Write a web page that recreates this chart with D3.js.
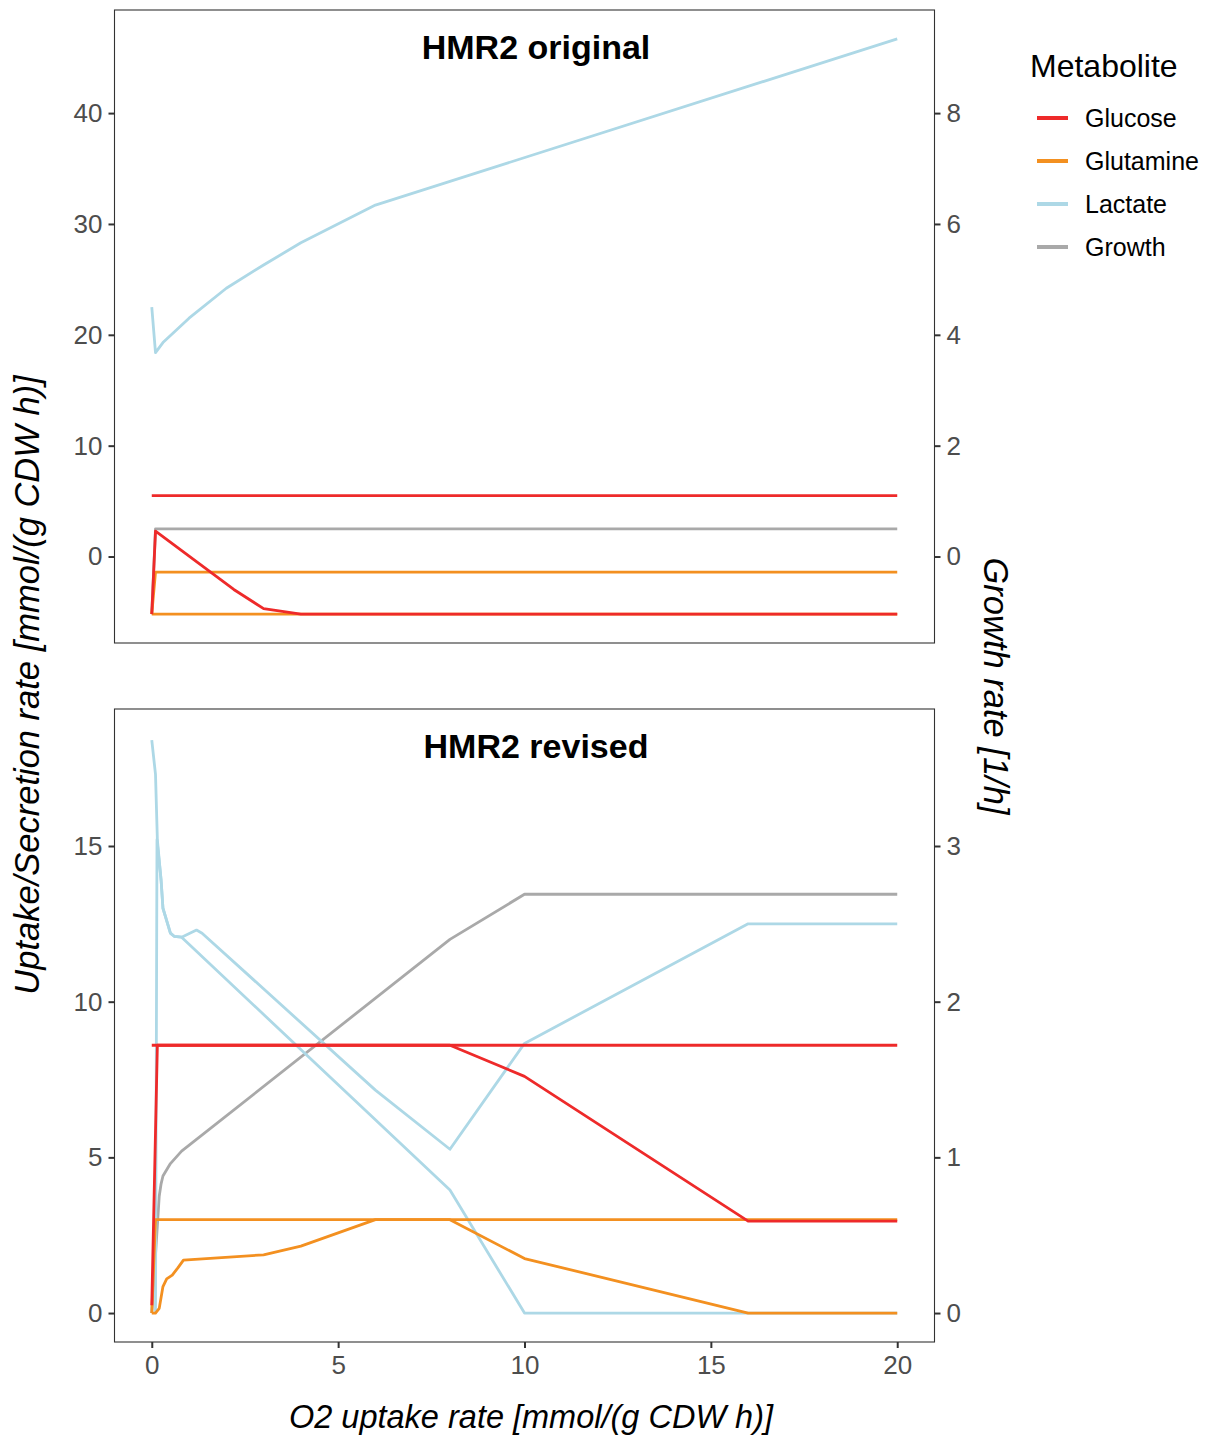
<!DOCTYPE html>
<html>
<head>
<meta charset="utf-8">
<script src="https://cdn.jsdelivr.net/npm/d3@7"></script>
<style>
  body { margin: 0; background: #fff; }
  svg text { font-family: "Liberation Sans", Arial, Helvetica, sans-serif; }
</style>
</head>
<body>
<svg id="chart" width="1213" height="1439"></svg>
<script>
// data: [O2 uptake, value] pairs
const metabolites = ["Glucose", "Glutamine", "Lactate", "Growth"];
const xTicks = [0, 5, 10, 15, 20];

// HMR2 original
const origGlucoseMax = [[0, 5.5], [20, 5.5]];
const origGlucoseMin = [[0, -5.2], [0.1, 2.3], [2.2, -2.97], [3, -4.7], [4, -5.2], [20, -5.2]];
const origGlutamineMax = [[0, -5.2], [0.1, -1.4], [20, -1.4]];
const origGlutamineMin = [[0, -5.2], [20, -5.2]];
const origLactate = [[0, 22.5], [0.1, 18.4], [0.3, 19.3], [1, 21.5], [2, 24.2], [3, 26.3], [4, 28.3], [6, 31.7], [20, 46.7]];
const origGrowth = [[0, -1.03], [0.1, 0.5], [20, 0.5]];
const origLeftTicks = [0, 10, 20, 30, 40];
const origRightTicks = [0, 2, 4, 6, 8];

// HMR2 revised
const revGlucoseMax = [[0, 8.6], [20, 8.6]];
const revGlucoseMin = [[0, 0.25], [0.15, 8.6], [8, 8.6], [10, 7.6], [16, 2.95], [20, 2.95]];
const revGlutamineMax = [[0, 0], [0.1, 3.0], [20, 3.0]];
const revGlutamineMin = [[0, 0], [0.1, 0], [0.2, 0.15], [0.3, 0.85], [0.4, 1.1], [0.55, 1.22], [0.7, 1.45], [0.85, 1.7], [3, 1.87], [4, 2.15], [6, 3.0], [8, 3.0], [10, 1.75], [16, 0], [20, 0]];
const revLactateMax = [[0, 18.4], [0.1, 17.3], [0.15, 15.2], [0.25, 13.9], [0.3, 13.0], [0.5, 12.2], [0.6, 12.1], [0.8, 12.07], [1.2, 12.3], [1.35, 12.2], [6, 7.16], [8, 5.26], [10, 8.66], [16, 12.5], [20, 12.5]];
const revLactateMin = [[0.1, 0], [0.14, 15.2], [0.25, 13.9], [0.3, 13.0], [0.5, 12.2], [0.6, 12.1], [0.8, 12.07], [8, 3.95], [10, 0], [20, 0]];
const revGrowth = [[0, 0], [0.2, 0.75], [0.25, 0.83], [0.3, 0.88], [0.5, 0.96], [0.8, 1.04], [8, 2.4], [10, 2.69], [20, 2.69]];
const revLeftTicks = [0, 5, 10, 15];
const revRightTicks = [0, 1, 2, 3];

const growthFactor = 5; // growth is drawn on the left scale times 5

const color = d3.scaleOrdinal()
  .domain(metabolites)
  .range(["#ee2a2a", "#f39020", "#add8e6", "#a9a9a9"]);

const svg = d3.select("#chart");
const left = 114.5, right = 934.5;

const x = d3.scaleLinear().domain([-1, 21]).range([left, right]);

function panel(top, bottom, yDomain, title, series, leftTicks, rightTicks, showX) {
  const y = d3.scaleLinear().domain(yDomain).range([bottom, top]);
  const yG = d3.scaleLinear().domain(yDomain.map(d => d / growthFactor)).range([bottom, top]);
  const g = svg.append("g");

  const line = d3.line().x(d => x(d[0])).y(d => y(d[1]));
  const lineG = d3.line().x(d => x(d[0])).y(d => yG(d[1]));

  series.forEach(s => {
    g.append("path")
      .attr("d", s.name === "Growth" ? lineG(s.values) : line(s.values))
      .attr("fill", "none")
      .attr("stroke", color(s.name))
      .attr("stroke-width", 2.8)
      .attr("stroke-linejoin", "round");
  });

  g.append("rect")
    .attr("x", left).attr("y", top)
    .attr("width", right - left).attr("height", bottom - top)
    .attr("fill", "none").attr("stroke", "#333").attr("stroke-width", 1.1);

  const yAxis = g.append("g").attr("transform", `translate(${left},0)`)
    .call(d3.axisLeft(y).tickValues(leftTicks).tickFormat(d3.format("d")).tickSize(6).tickPadding(6));
  const yAxisR = g.append("g").attr("transform", `translate(${right},0)`)
    .call(d3.axisRight(yG).tickValues(rightTicks).tickFormat(d3.format("d")).tickSize(6).tickPadding(6));
  [yAxis, yAxisR].forEach(a => {
    a.select(".domain").remove();
    a.selectAll("line").attr("stroke", "#333").attr("stroke-width", 2);
    a.selectAll("text").attr("fill", "#4d4d4d").style("font-size", "26px");
  });

  if (showX) {
    const xAxis = g.append("g").attr("transform", `translate(0,${bottom})`)
      .call(d3.axisBottom(x).tickValues(xTicks).tickSize(6).tickPadding(8));
    xAxis.select(".domain").remove();
    xAxis.selectAll("line").attr("stroke", "#333").attr("stroke-width", 2);
    xAxis.selectAll("text").attr("fill", "#4d4d4d").style("font-size", "26px");
  }

  g.append("text")
    .attr("x", 536).attr("y", top + 49)
    .attr("text-anchor", "middle")
    .style("font-size", "34px").style("font-weight", "bold")
    .text(title);
}

panel(10, 643, [-7.8, 49.3], "HMR2 original", [
  { name: "Growth", values: origGrowth },
  { name: "Lactate", values: origLactate },
  { name: "Glutamine", values: origGlutamineMax },
  { name: "Glutamine", values: origGlutamineMin },
  { name: "Glucose", values: origGlucoseMax },
  { name: "Glucose", values: origGlucoseMin }
], origLeftTicks, origRightTicks, false);

panel(709, 1342, [-0.93, 19.4], "HMR2 revised", [
  { name: "Growth", values: revGrowth },
  { name: "Lactate", values: revLactateMax },
  { name: "Lactate", values: revLactateMin },
  { name: "Glutamine", values: revGlutamineMax },
  { name: "Glutamine", values: revGlutamineMin },
  { name: "Glucose", values: revGlucoseMax },
  { name: "Glucose", values: revGlucoseMin }
], revLeftTicks, revRightTicks, true);

// axis titles
svg.append("text")
  .attr("transform", "translate(39,685) rotate(-90)")
  .attr("text-anchor", "middle")
  .style("font-size", "34.5px").style("font-style", "italic")
  .text("Uptake/Secretion rate [mmol/(g CDW h)]");

svg.append("text")
  .attr("transform", "translate(984,686) rotate(90)")
  .attr("text-anchor", "middle")
  .style("font-size", "34.5px").style("font-style", "italic")
  .text("Growth rate [1/h]");

svg.append("text")
  .attr("x", 531).attr("y", 1428)
  .attr("text-anchor", "middle")
  .style("font-size", "32.5px").style("font-style", "italic")
  .text("O2 uptake rate [mmol/(g CDW h)]");

// legend
const legend = svg.append("g").attr("transform", "translate(1030,0)");
legend.append("text")
  .attr("x", 0).attr("y", 77)
  .style("font-size", "32px")
  .text("Metabolite");
metabolites.forEach((m, i) => {
  const yy = 118 + i * 43;
  legend.append("line")
    .attr("x1", 7).attr("x2", 38).attr("y1", yy).attr("y2", yy)
    .attr("stroke", color(m)).attr("stroke-width", 4);
  legend.append("text")
    .attr("x", 55).attr("y", yy)
    .attr("dy", "0.35em")
    .style("font-size", "25px")
    .text(m);
});
</script>
</body>
</html>
